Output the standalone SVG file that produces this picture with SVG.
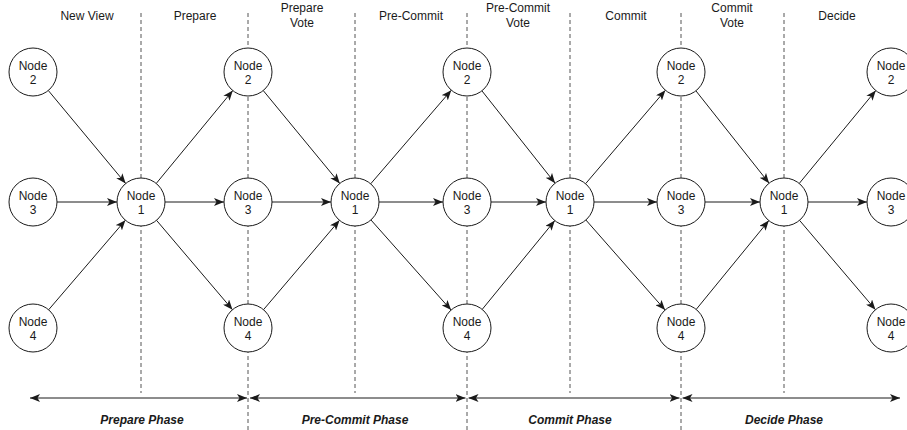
<svg xmlns="http://www.w3.org/2000/svg" width="907" height="430" viewBox="0 0 907 430">
<style>
  .bg{fill:#ffffff}
  .node circle{fill:#ffffff;stroke:#1a1a1a;stroke-width:1}
  .node text{font-family:"Liberation Sans",Arial,sans-serif;font-size:12px;fill:#1a1a1a;text-anchor:middle}
  .dash{stroke:#555;stroke-width:1;stroke-dasharray:4,3;fill:none}
  .edge{stroke:#1a1a1a;stroke-width:1;fill:none;marker-end:url(#arr)}
  .span{stroke:#1a1a1a;stroke-width:1;fill:none;marker-end:url(#arr);marker-start:url(#arr)}
  .lbl{font-family:"Liberation Sans",Arial,sans-serif;font-size:12px;fill:#1a1a1a;text-anchor:middle}
  .phase{font-family:"Liberation Sans",Arial,sans-serif;font-size:12px;font-weight:bold;font-style:italic;fill:#1a1a1a;text-anchor:middle}
</style>
<defs>
  <marker id="arr" markerUnits="userSpaceOnUse" markerWidth="10" markerHeight="8" refX="10" refY="4" orient="auto-start-reverse">
    <path d="M0,0 L10,4 L0,8 L2.5,4 Z" fill="#1a1a1a"/>
  </marker>
</defs>
<rect class="bg" x="0" y="0" width="907" height="430"/>

<g id="dividers">
  <line class="dash" x1="141" y1="13" x2="141" y2="393"/>
  <line class="dash" x1="248" y1="13" x2="248" y2="430"/>
  <line class="dash" x1="355" y1="13" x2="355" y2="393"/>
  <line class="dash" x1="467" y1="13" x2="467" y2="430"/>
  <line class="dash" x1="570" y1="13" x2="570" y2="393"/>
  <line class="dash" x1="681" y1="13" x2="681" y2="430"/>
  <line class="dash" x1="784" y1="13" x2="784" y2="393"/>
</g>

<g id="step-labels">
  <text class="lbl" x="87" y="20">New View</text>
  <text class="lbl" x="195" y="20">Prepare</text>
  <text class="lbl" x="302" y="12">Prepare</text>
  <text class="lbl" x="302" y="27">Vote</text>
  <text class="lbl" x="411" y="20">Pre-Commit</text>
  <text class="lbl" x="518" y="12">Pre-Commit</text>
  <text class="lbl" x="518" y="27">Vote</text>
  <text class="lbl" x="626" y="20">Commit</text>
  <text class="lbl" x="732" y="12">Commit</text>
  <text class="lbl" x="732" y="27">Vote</text>
  <text class="lbl" x="837" y="20">Decide</text>
</g>

<g id="connectors">
  <line class="edge" x1="48.3" y1="90.5" x2="125.7" y2="183.5"/>
  <line class="edge" x1="57" y1="202" x2="117" y2="202"/>
  <line class="edge" x1="48.6" y1="309.8" x2="125.4" y2="220.2"/>

  <line class="edge" x1="156.2" y1="183.5" x2="232.8" y2="90.5"/>
  <line class="edge" x1="165" y1="202" x2="224" y2="202"/>
  <line class="edge" x1="156.5" y1="220.3" x2="232.5" y2="309.7"/>

  <line class="edge" x1="263.2" y1="90.5" x2="339.8" y2="183.5"/>
  <line class="edge" x1="272" y1="202" x2="331" y2="202"/>
  <line class="edge" x1="263.5" y1="309.7" x2="339.5" y2="220.3"/>

  <line class="edge" x1="370.7" y1="183.8" x2="451.3" y2="90.2"/>
  <line class="edge" x1="379" y1="202" x2="443" y2="202"/>
  <line class="edge" x1="370.9" y1="219.9" x2="451.1" y2="310.1"/>

  <line class="edge" x1="481.9" y1="90.8" x2="555.1" y2="183.2"/>
  <line class="edge" x1="491" y1="202" x2="546" y2="202"/>
  <line class="edge" x1="482.2" y1="309.4" x2="554.8" y2="220.6"/>

  <line class="edge" x1="585.6" y1="183.7" x2="665.4" y2="90.3"/>
  <line class="edge" x1="594" y1="202" x2="657" y2="202"/>
  <line class="edge" x1="585.9" y1="220" x2="665.1" y2="310"/>

  <line class="edge" x1="695.9" y1="90.8" x2="769.1" y2="183.2"/>
  <line class="edge" x1="705" y1="202" x2="760" y2="202"/>
  <line class="edge" x1="696.2" y1="309.4" x2="768.8" y2="220.6"/>

  <line class="edge" x1="799.2" y1="183.5" x2="875.8" y2="90.5"/>
  <line class="edge" x1="808" y1="202" x2="867" y2="202"/>
  <line class="edge" x1="799.5" y1="220.3" x2="875.5" y2="309.7"/>

  <line class="span" x1="30" y1="398" x2="247" y2="398"/>
  <line class="span" x1="250" y1="398" x2="465.5" y2="398"/>
  <line class="span" x1="468.5" y1="398" x2="679.5" y2="398"/>
  <line class="span" x1="682.5" y1="398" x2="900" y2="398"/>
</g>

<g id="phase-labels">
  <text class="phase" x="142" y="424">Prepare Phase</text>
  <text class="phase" x="355" y="424">Pre-Commit Phase</text>
  <text class="phase" x="570" y="424">Commit Phase</text>
  <text class="phase" x="784" y="424">Decide Phase</text>
</g>

<g id="n2-c0" class="node"><circle cx="33" cy="72" r="24"/><text x="33" y="70">Node</text><text x="33" y="84">2</text></g>
<g id="n3-c0" class="node"><circle cx="33" cy="202" r="24"/><text x="33" y="200">Node</text><text x="33" y="214">3</text></g>
<g id="n4-c0" class="node"><circle cx="33" cy="328" r="24"/><text x="33" y="326">Node</text><text x="33" y="340">4</text></g>
<g id="n1-m0" class="node"><circle cx="141" cy="202" r="24"/><text x="141" y="200">Node</text><text x="141" y="214">1</text></g>

<g id="n2-c1" class="node"><circle cx="248" cy="72" r="24"/><text x="248" y="70">Node</text><text x="248" y="84">2</text></g>
<g id="n3-c1" class="node"><circle cx="248" cy="202" r="24"/><text x="248" y="200">Node</text><text x="248" y="214">3</text></g>
<g id="n4-c1" class="node"><circle cx="248" cy="328" r="24"/><text x="248" y="326">Node</text><text x="248" y="340">4</text></g>
<g id="n1-m1" class="node"><circle cx="355" cy="202" r="24"/><text x="355" y="200">Node</text><text x="355" y="214">1</text></g>

<g id="n2-c2" class="node"><circle cx="467" cy="72" r="24"/><text x="467" y="70">Node</text><text x="467" y="84">2</text></g>
<g id="n3-c2" class="node"><circle cx="467" cy="202" r="24"/><text x="467" y="200">Node</text><text x="467" y="214">3</text></g>
<g id="n4-c2" class="node"><circle cx="467" cy="328" r="24"/><text x="467" y="326">Node</text><text x="467" y="340">4</text></g>
<g id="n1-m2" class="node"><circle cx="570" cy="202" r="24"/><text x="570" y="200">Node</text><text x="570" y="214">1</text></g>

<g id="n2-c3" class="node"><circle cx="681" cy="72" r="24"/><text x="681" y="70">Node</text><text x="681" y="84">2</text></g>
<g id="n3-c3" class="node"><circle cx="681" cy="202" r="24"/><text x="681" y="200">Node</text><text x="681" y="214">3</text></g>
<g id="n4-c3" class="node"><circle cx="681" cy="328" r="24"/><text x="681" y="326">Node</text><text x="681" y="340">4</text></g>
<g id="n1-m3" class="node"><circle cx="784" cy="202" r="24"/><text x="784" y="200">Node</text><text x="784" y="214">1</text></g>

<g id="n2-c4" class="node"><circle cx="891" cy="72" r="24"/><text x="891" y="70">Node</text><text x="891" y="84">2</text></g>
<g id="n3-c4" class="node"><circle cx="891" cy="202" r="24"/><text x="891" y="200">Node</text><text x="891" y="214">3</text></g>
<g id="n4-c4" class="node"><circle cx="891" cy="328" r="24"/><text x="891" y="326">Node</text><text x="891" y="340">4</text></g>
</svg>
